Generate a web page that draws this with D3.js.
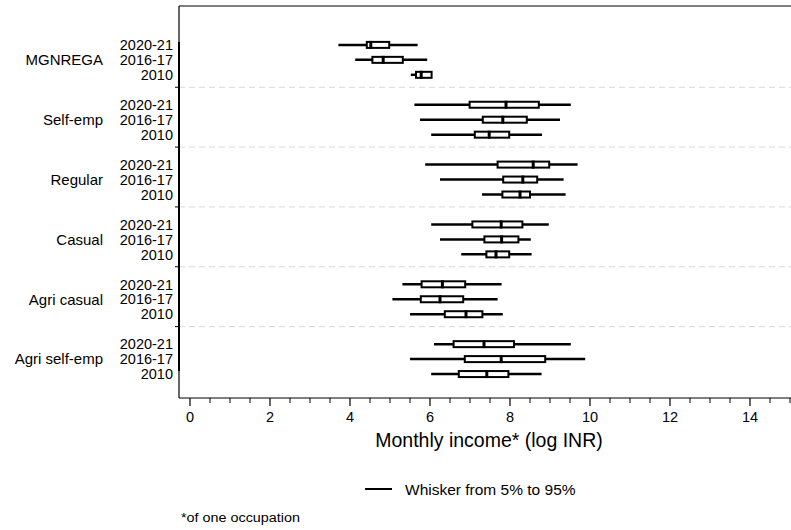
<!DOCTYPE html>
<html><head><meta charset="utf-8">
<script src="https://cdn.jsdelivr.net/npm/d3@7"></script>
<style>body{margin:0;background:#fff}svg{display:block}text{font-family:"Liberation Sans",Arial,sans-serif;fill:#000}</style>
</head><body><svg id="c" width="791" height="530"></svg>
<script>
const groups = ["MGNREGA","Self-emp","Regular","Casual","Agri casual","Agri self-emp"];
const years = ["2020-21","2016-17","2010"];
const p5  = [[3.71,4.13,5.52],[5.61,5.75,6.03],[5.88,6.25,7.30],[6.03,6.25,6.78],[5.31,5.06,5.50],[6.10,5.50,6.03]];
const p25 = [[4.42,4.56,5.65],[6.99,7.32,7.12],[7.69,7.83,7.81],[7.06,7.36,7.41],[5.79,5.77,6.37],[6.59,6.87,6.72]];
const p50 = [[4.52,4.83,5.78],[7.90,7.82,7.48],[8.58,8.32,8.25],[7.78,7.79,7.65],[6.31,6.25,6.90],[7.35,7.78,7.42]];
const p75 = [[4.98,5.32,6.04],[8.72,8.42,7.98],[8.98,8.68,8.50],[8.31,8.21,7.98],[6.88,6.83,7.31],[8.10,8.88,7.96]];
const p95 = [[5.69,5.93,6.02],[9.52,9.25,8.80],[9.69,9.34,9.39],[8.97,8.52,8.54],[7.79,7.69,7.82],[9.52,9.88,8.79]];
const xTicks = [0,2,4,6,8,10,12,14];
const xTitle = "Monthly income* (log INR)";
const legendLabel = "Whisker from 5% to 95%";
const footnote = "*of one occupation";

const svg = d3.select("#c");
const L = 179, R = 792, T = 6, B = 398;
const x = d3.scaleLinear().domain([0, 15.05]).range([190, 792]);
const y = d3.scaleLinear().domain([-2.6, 23.6]).range([T, B]);

const rows = [];
groups.forEach((g, gi) => years.forEach((yr, ri) => rows.push({
  g, gi, yr, ri, slot: gi*4 + ri,
  lo: p5[gi][ri], q1: p25[gi][ri], med: p50[gi][ri], q3: p75[gi][ri], hi: p95[gi][ri]
})));

// separators
const seps = d3.range(1, groups.length).map(i => i*4 - 1.17);
svg.append("g").selectAll("line").data(seps).join("line")
  .attr("x1", L).attr("x2", R).attr("y1", d => y(d)).attr("y2", d => y(d))
  .attr("stroke", "#d9d9d9").attr("stroke-width", 1).attr("stroke-dasharray", "6,4");
svg.append("g").selectAll("line").data(seps).join("line")
  .attr("x1", L-4).attr("x2", L).attr("y1", d => y(d)).attr("y2", d => y(d))
  .attr("stroke", "#000").attr("stroke-width", 1);

// frame
svg.append("line").attr("x1", L).attr("x2", R).attr("y1", T).attr("y2", T).attr("stroke", "#000").attr("stroke-width", 1.2);
svg.append("line").attr("x1", L).attr("x2", L).attr("y1", T).attr("y2", B).attr("stroke", "#000").attr("stroke-width", 1.2);
svg.append("line").attr("x1", L).attr("x2", L).attr("y1", y(-0.2)).attr("y2", y(21.8)).attr("stroke", "#000").attr("stroke-width", 2);

// x axis
const xg = svg.append("g").attr("transform", `translate(0,${B})`);
xg.append("line").attr("x1", L).attr("x2", R).attr("stroke", "#000").attr("stroke-width", 1.2);
const minor = d3.range(0, 15.01, 0.5).filter(v => !xTicks.includes(v));
xg.selectAll("line.mi").data(minor).join("line").attr("class","mi")
  .attr("x1", d => x(d)).attr("x2", d => x(d)).attr("y1", 0).attr("y2", 5).attr("stroke", "#000").attr("stroke-width", 1);
xg.selectAll("line.ma").data(xTicks).join("line").attr("class","ma")
  .attr("x1", d => x(d)).attr("x2", d => x(d)).attr("y1", 0).attr("y2", 8).attr("stroke", "#000").attr("stroke-width", 1.2);
xg.selectAll("text").data(xTicks).join("text")
  .attr("x", d => x(d)).attr("y", 24).attr("text-anchor", "middle").attr("font-size", 14.5).text(d => d);
svg.append("text").attr("x", 489).attr("y", 447).attr("text-anchor", "middle").attr("font-size", 19.5).text(xTitle);

// y labels
svg.append("g").selectAll("text").data(rows).join("text")
  .attr("x", 173).attr("y", d => y(d.slot)).attr("dy", "0.36em").attr("text-anchor", "end")
  .attr("font-size", 14.5).text(d => d.yr);
svg.append("g").selectAll("text").data(groups).join("text")
  .attr("x", 103).attr("y", (d, i) => y(i*4 + 1)).attr("dy", "0.36em").attr("text-anchor", "end")
  .attr("font-size", 15).text(d => d);

// boxes
const bx = svg.append("g").selectAll("g").data(rows).join("g");
bx.append("line").attr("x1", d => x(d.lo)).attr("x2", d => x(d.hi))
  .attr("y1", d => y(d.slot)).attr("y2", d => y(d.slot)).attr("stroke", "#000").attr("stroke-width", 2.5);
bx.append("rect").attr("x", d => x(d.q1)).attr("width", d => x(d.q3) - x(d.q1))
  .attr("y", d => y(d.slot) - 3).attr("height", 6)
  .attr("fill", "#fff").attr("stroke", "#000").attr("stroke-width", 2);
bx.append("line").attr("x1", d => x(d.med)).attr("x2", d => x(d.med))
  .attr("y1", d => y(d.slot) - 4).attr("y2", d => y(d.slot) + 4).attr("stroke", "#000").attr("stroke-width", 3);

// legend
svg.append("line").attr("x1", 365).attr("x2", 392).attr("y1", 489).attr("y2", 489).attr("stroke", "#000").attr("stroke-width", 2);
svg.append("text").attr("x", 405).attr("y", 489).attr("dy", "0.36em").attr("font-size", 15.5).text(legendLabel);
svg.append("text").attr("x", 181).attr("y", 518).attr("dy", "0.36em").attr("font-size", 12)
  .attr("textLength", 119).attr("lengthAdjust", "spacingAndGlyphs").text(footnote);
</script></body></html>
